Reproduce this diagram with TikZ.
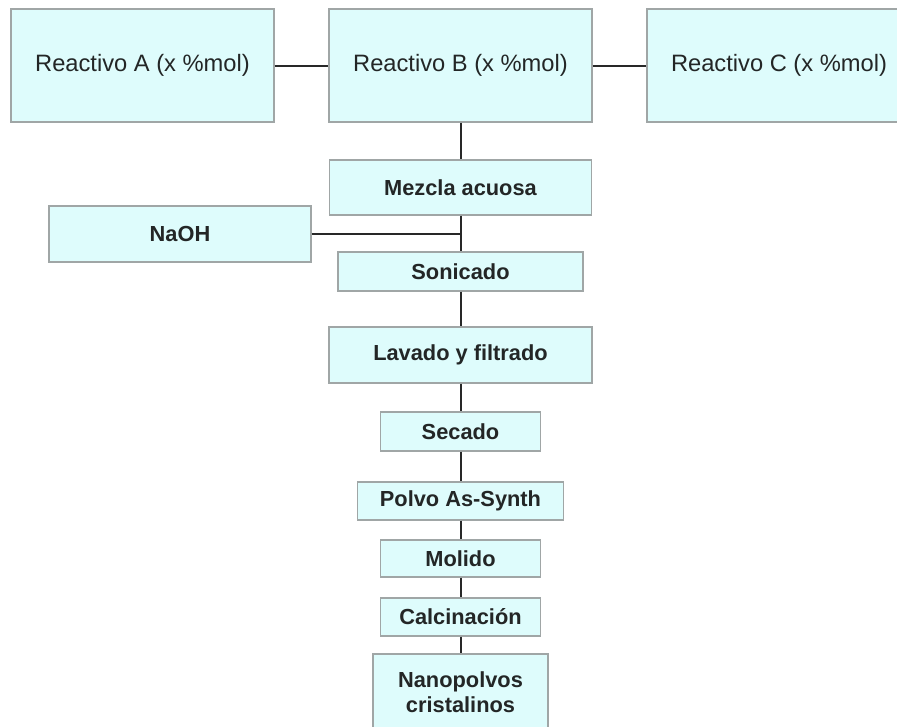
\documentclass[tikz,border=0pt]{standalone}
\usepackage{fontspec}
\setmainfont{Liberation Sans}
\usepackage{tikz}

\definecolor{relleno}{RGB}{222,252,252}
\definecolor{borde}{RGB}{160,166,166}
\definecolor{linea}{RGB}{40,40,40}
\definecolor{texto}{RGB}{35,38,38}

\begin{document}
\begin{tikzpicture}[x=1pt, y=-1pt,
  caja/.style={draw=borde, fill=relleno, line width=1.3pt, inner sep=0pt, align=center, text=texto, font=\fontsize{23.7}{27}\selectfont},
  cajab/.style={caja, font=\fontsize{21.8}{25}\selectfont\bfseries},
  union/.style={draw=linea, line width=2pt}]
\useasboundingbox (0,0) rectangle (897,726);
%\draw (0,0) grid (897,726);
\node [caja, minimum width=263pt, minimum height=113pt] (reactA) at (142.5,65.5) {Reactivo A (x \%mol)};
\node [caja, minimum width=263pt, minimum height=113pt] (reactB) at (460.5,65.5) {Reactivo B (x \%mol)};
\node [caja, minimum width=264pt, minimum height=113pt] (reactC) at (779,65.5) {Reactivo C (x \%mol)};

\node [cajab, minimum width=262pt, minimum height=55pt] (mezcla) at (460.5,187.5) {Mezcla acuosa};
\node [cajab, minimum width=262pt, minimum height=56pt] (naoh) at (180,234) {NaOH};
\node [cajab, minimum width=245pt, minimum height=39pt] (sonicado) at (460.5,271.5) {Sonicado};
\node [cajab, minimum width=263pt, minimum height=56pt] (lavado) at (460.5,355) {Lavado y filtrado};
\node [cajab, minimum width=160pt, minimum height=39pt] (secado) at (460.5,431.5) {Secado};
\node [cajab, minimum width=206pt, minimum height=38pt] (polvo) at (460.5,501) {Polvo As-Synth};
\node [cajab, minimum width=160pt, minimum height=37pt] (molido) at (460.5,558.5) {Molido};
\node [cajab, minimum width=160pt, minimum height=38pt] (calcin) at (460.5,617) {Calcinación};
\node [cajab, minimum width=175pt, minimum height=76pt] (nano) at (460.5,692) {Nanopolvos\\cristalinos};

\coordinate (junta) at (460.5,234);

\draw [union] (reactA.east) -- (reactB.west);
\draw [union] (reactB.east) -- (reactC.west);
\draw [union] (reactB.south) -- (mezcla.north);
\draw [union] (mezcla.south) -- (sonicado.north);
\draw [union] (naoh.east) -- (junta);
\draw [union] (sonicado.south) -- (lavado.north);
\draw [union] (lavado.south) -- (secado.north);
\draw [union] (secado.south) -- (polvo.north);
\draw [union] (polvo.south) -- (molido.north);
\draw [union] (molido.south) -- (calcin.north);
\draw [union] (calcin.south) -- (nano.north);

\end{tikzpicture}
\end{document}
